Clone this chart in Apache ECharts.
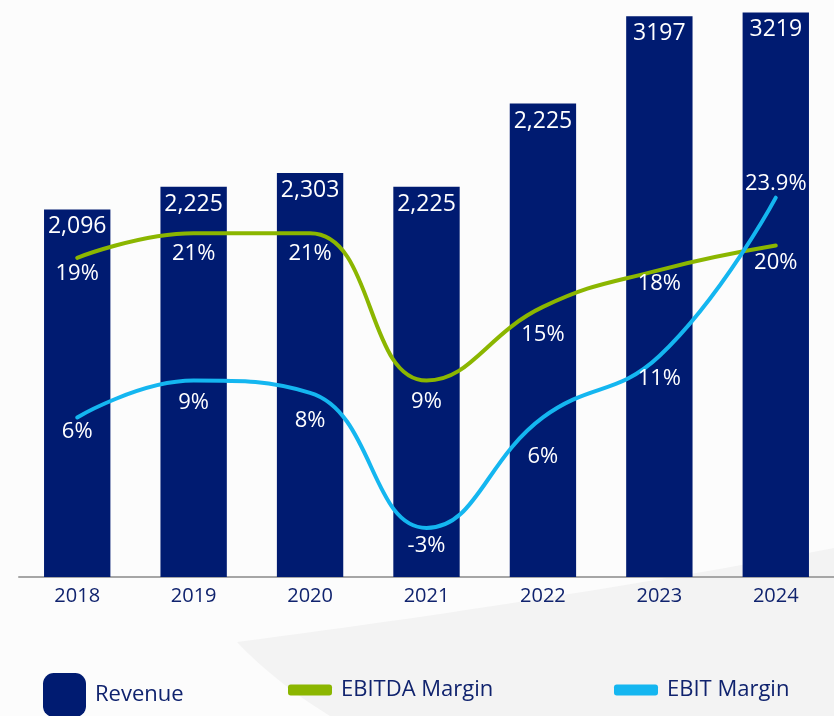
<!DOCTYPE html>
<html>
<head>
<meta charset="utf-8">
<title>Revenue and margins</title>
<script src="https://cdn.jsdelivr.net/npm/echarts@6/dist/echarts.min.js"></script>
<style>
  html, body { margin: 0; padding: 0; background: #fcfcfc; }
  #chart { width: 834px; height: 716px; }
</style>
</head>
<body>
<div id="chart"></div>
<script>
// data
var years = ['2018', '2019', '2020', '2021', '2022', '2023', '2024'];
var revenue = [2096, 2225, 2303, 2225, 2700, 3197, 3219];
var revenueLabels = ['2,096', '2,225', '2,303', '2,225', '2,225', '3197', '3219'];
var ebitdaMargin = [19, 21, 21, 9, 15, 18, 20];
var ebitMargin = [6, 9, 8, -3, 6, 11, 23.9];

var navy = '#001b71';
var green = '#8bb600';
var cyan = '#14b6f0';
var textNavy = '#10236e';
var font = '"Open Sans", "Noto Sans", sans-serif';

// where each margin label sits, relative to its point (px)
var ebitdaShift = [16, 20, 20, 21, 28, 14, 17];
var ebitShift = [14, 22, 28, 18, 39, 23, -14];

function marginItems(values, shift) {
  return values.map(function (v, i) {
    return { value: v, label: { offset: [0, shift[i]] } };
  });
}

// light swoosh in the background, two quadratic curves
function quad(p0, c, p1, n) {
  var pts = [];
  for (var i = 0; i <= n; i++) {
    var t = i / n, u = 1 - t;
    pts.push([u * u * p0[0] + 2 * u * t * c[0] + t * t * p1[0],
              u * u * p0[1] + 2 * u * t * c[1] + t * t * p1[1]]);
  }
  return pts;
}
var swoosh = quad([237, 642], [560, 600], [834, 548], 30)
  .concat([[834, 716]])
  .concat(quad([330, 716], [275, 682], [237, 642], 12));

var chart = echarts.init(document.getElementById('chart'));

chart.setOption({
  backgroundColor: '#fcfcfc',
  animation: false,
  textStyle: { fontFamily: font },
  graphic: [{
    type: 'polygon',
    z: -10,
    silent: true,
    shape: { points: swoosh },
    style: { fill: '#f3f3f3' }
  }],
  grid: { left: 19, top: 0, width: 822, height: 577 },
  legend: [{
    data: [{ name: 'Revenue', icon: 'roundRect' }],
    left: 38, top: 668,
    itemWidth: 43, itemHeight: 44,
    textStyle: { color: textNavy, fontSize: 22, fontFamily: font, padding: [0, 0, 8, 4] }
  }, {
    data: [{ name: 'EBITDA Margin', icon: 'roundRect' }],
    left: 283, top: 674,
    itemWidth: 44, itemHeight: 11,
    textStyle: { color: textNavy, fontSize: 22, fontFamily: font, padding: [0, 0, 0, 4] }
  }, {
    data: [{ name: 'EBIT Margin', icon: 'roundRect' }],
    left: 609, top: 674,
    itemWidth: 44, itemHeight: 11,
    textStyle: { color: textNavy, fontSize: 22, fontFamily: font, padding: [0, 0, 0, 4] }
  }],
  xAxis: {
    type: 'category',
    data: years,
    axisLine: { lineStyle: { color: '#a6a6a6', width: 2 } },
    axisTick: { show: false },
    axisLabel: { color: textNavy, fontSize: 20, margin: 9, fontFamily: font }
  },
  yAxis: [{
    type: 'value', min: 0, max: 3290, show: false, splitLine: { show: false }
  }, {
    type: 'value', min: -7, max: 40, show: false, splitLine: { show: false }
  }],
  series: [{
    name: 'Revenue',
    type: 'bar',
    data: revenue,
    barWidth: '57%',
    itemStyle: { color: navy },
    label: {
      show: true,
      position: 'insideTop',
      distance: 6,
      color: '#ffffff',
      fontSize: 23,
      fontFamily: font,
      formatter: function (p) { return revenueLabels[p.dataIndex]; }
    }
  }, {
    name: 'EBITDA Margin',
    type: 'line',
    yAxisIndex: 1,
    data: marginItems(ebitdaMargin, ebitdaShift),
    smooth: 0.45,
    symbol: 'circle',
    symbolSize: 0,
    showSymbol: true,
    itemStyle: { color: green },
    lineStyle: { color: green, width: 4, cap: 'round' },
    label: {
      show: true,
      position: 'inside',
      color: '#ffffff',
      fontSize: 22,
      fontFamily: font,
      formatter: '{c}%'
    },
    z: 3
  }, {
    name: 'EBIT Margin',
    type: 'line',
    yAxisIndex: 1,
    data: marginItems(ebitMargin, ebitShift),
    smooth: 0.45,
    symbol: 'circle',
    symbolSize: 0,
    showSymbol: true,
    itemStyle: { color: cyan },
    lineStyle: { color: cyan, width: 4, cap: 'round' },
    label: {
      show: true,
      position: 'inside',
      color: '#ffffff',
      fontSize: 22,
      fontFamily: font,
      formatter: '{c}%'
    },
    z: 3
  }]
});
</script>
</body>
</html>
